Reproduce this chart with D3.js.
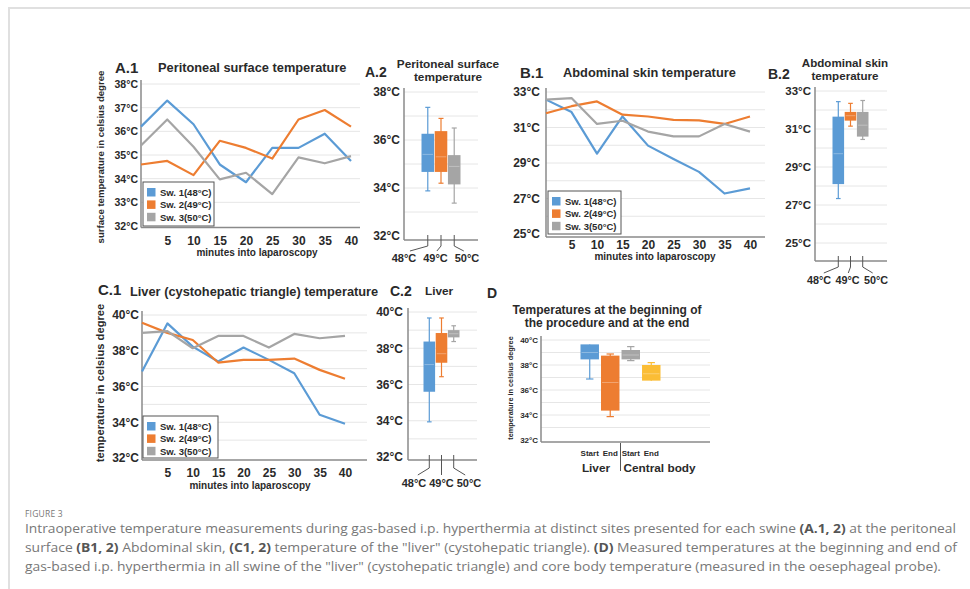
<!DOCTYPE html>
<html>
<head>
<meta charset="utf-8">
<script src="https://cdn.jsdelivr.net/npm/d3@7"></script>
<style>
  html, body { margin: 0; padding: 0; background: #fff; }
  svg { display: block; }
</style>
</head>
<body>
<svg id="fig" width="970" height="589"></svg>
<script>
// ---- data ----
const minutes = [0, 5, 10, 15, 20, 25, 30, 35, 40];
const minuteTicks = [5, 10, 15, 20, 25, 30, 35, 40];
const swineNames = ["Sw. 1(48°C)", "Sw. 2(49°C)", "Sw. 3(50°C)"];
const swineColors = ["#5b9bd5", "#ed7d31", "#a5a5a5"];

// peritoneal surface temperature (°C) per swine
const peritonealSw1 = [36.2, 37.3, 36.3, 34.6, 33.85, 35.3, 35.3, 35.9, 34.75];
const peritonealSw2 = [34.6, 34.75, 34.15, 35.6, 35.3, 34.85, 36.5, 36.9, 36.2];
const peritonealSw3 = [35.4, 36.5, 35.35, 33.97, 34.25, 33.35, 34.9, 34.65, 34.95];

// abdominal skin temperature (°C) per swine
const skinSw1 = [32.57, 31.87, 29.53, 31.62, 29.98, 29.23, 28.5, 27.28, 27.57];
const skinSw2 = [31.8, 32.2, 32.47, 31.72, 31.62, 31.43, 31.4, 31.2, 31.62];
const skinSw3 = [32.57, 32.66, 31.2, 31.38, 30.77, 30.5, 30.5, 31.2, 30.77];

// liver (cystohepatic triangle) temperature (°C) per swine
const liverSw1 = [36.84, 39.53, 38.23, 37.4, 38.18, 37.49, 36.74, 34.42, 33.92];
const liverSw2 = [39.57, 39.0, 38.6, 37.34, 37.49, 37.49, 37.56, 36.93, 36.43];
const liverSw3 = [39.0, 39.1, 38.14, 38.83, 38.83, 38.18, 38.94, 38.7, 38.83];

// box summaries: [min, q1, median, q3, max]
const boxCategories = ["48°C", "49°C", "50°C"];
const peritonealBox = [[33.88, 34.67, 35.4, 36.26, 37.36], [34.2, 34.67, 35.3, 36.37, 36.9], [33.37, 34.15, 34.9, 35.37, 36.5]];
const skinBox = [[27.34, 28.1, 29.7, 31.65, 32.44], [31.15, 31.44, 31.7, 31.9, 32.35], [30.45, 30.6, 31.2, 31.9, 32.5]];
const liverBox = [[33.94, 35.6, 37.1, 38.37, 39.67], [36.43, 37.2, 37.7, 38.84, 39.67], [38.37, 38.6, 38.8, 39.0, 39.24]];

const endpointKeys = ["liverStart", "liverEnd", "bodyStart", "bodyEnd"];
const endpointLabels = ["Start", "End", "Start", "End"];
const endpointGroups = ["Liver", "Central body"];
const endpointBox = [[36.88, 38.45, 39.0, 39.65, 39.65], [33.87, 34.35, 36.6, 38.75, 38.88], [38.35, 38.45, 38.8, 39.2, 39.47], [36.75, 36.75, 37.3, 38.0, 38.19]];
const endpointColors = ["#5b9bd5", "#ed7d31", "#a5a5a5", "#fbbd35"];

// ---- drawing ----
const FONT = "'Liberation Sans', Arial, Helvetica, sans-serif";
const INK = "#2a2a2a";
const AXIS = "#8a8a8a";
const GRID = "#e6e6e6";
const svg = d3.select("#fig");

// figure frame
svg.append("path").attr("d", "M9,589V8H970").attr("fill", "none")
  .attr("stroke", "#e0e0e0").attr("stroke-width", 2);

const root = svg.append("g").attr("font-family", FONT);

function txt(g, x, y, s, size, anchor = "start", weight = "bold") {
  return g.append("text").attr("x", x).attr("y", y).attr("font-size", size)
    .attr("font-weight", weight).attr("text-anchor", anchor).attr("fill", INK).text(s);
}

function styleAxis(sel, size) {
  sel.attr("font-family", FONT).attr("font-size", size);
  sel.select(".domain").remove();
  sel.selectAll("text").attr("font-weight", "bold").attr("fill", INK);
}

function yAxisBlock(g, cfg, y) {
  g.append("g").selectAll("line").data(d3.range(cfg.yLo + 1, cfg.yHi + 1)).join("line")
    .attr("x1", cfg.x0).attr("x2", cfg.xEnd)
    .attr("y1", d => y(d)).attr("y2", d => y(d))
    .attr("stroke", GRID).attr("stroke-width", 1);
  const ya = g.append("g").attr("transform", `translate(${cfg.x0},0)`)
    .call(d3.axisLeft(y).tickValues(cfg.yTicks).tickSize(0).tickPadding(cfg.yPad).tickFormat(d => d + "°C"));
  styleAxis(ya, cfg.yFont);
}

function axisLines(g, cfg, y) {
  g.append("line").attr("x1", cfg.x0).attr("x2", cfg.x0)
    .attr("y1", y(cfg.yHi) - 4).attr("y2", cfg.axisY)
    .attr("stroke", AXIS).attr("stroke-width", 1.5);
  g.append("line").attr("x1", cfg.x0).attr("x2", cfg.xEnd)
    .attr("y1", cfg.axisY).attr("y2", cfg.axisY)
    .attr("stroke", AXIS).attr("stroke-width", 1.5);
}

function lineChart(cfg) {
  const g = root.append("g");
  const x = d3.scaleLinear().domain([0, 40]).range([cfg.x0, cfg.x40]);
  const y = d3.scaleLinear().domain([cfg.yLo, cfg.yHi]).range([cfg.yLoPx, cfg.yHiPx]);
  yAxisBlock(g, cfg, y);

  const xa = g.append("g").attr("transform", `translate(0,${cfg.axisY})`)
    .call(d3.axisBottom(x).tickValues(minuteTicks).tickSize(0));
  styleAxis(xa, cfg.xFont);
  xa.selectAll("text").attr("dy", null).attr("y", cfg.xLabelY - cfg.axisY);

  axisLines(g, cfg, y);

  const line = d3.line().x((d, i) => x(minutes[i])).y(d => y(d));
  g.append("g").selectAll("path").data(cfg.series).join("path")
    .attr("d", line).attr("fill", "none")
    .attr("stroke", (d, i) => swineColors[i]).attr("stroke-width", 2.2)
    .attr("stroke-linejoin", "round");

  // legend
  const lg = g.append("g").attr("transform", `translate(${cfg.legend[0]},${cfg.legend[1]})`);
  lg.append("rect").attr("width", cfg.legend[2]).attr("height", cfg.legend[3])
    .attr("fill", "#fff").attr("stroke", "#555").attr("stroke-width", 1);
  const rows = lg.selectAll("g").data(swineNames).join("g")
    .attr("transform", (d, i) => `translate(4,${6 + i * 12.4})`);
  rows.append("rect").attr("width", 8.5).attr("height", 8.5).attr("fill", (d, i) => swineColors[i]);
  rows.append("text").attr("x", 13).attr("y", 8).attr("font-size", 9.5)
    .attr("font-weight", "bold").attr("fill", INK).text(d => d);

  txt(g, cfg.xTitle[0], cfg.xTitle[1], "minutes into laparoscopy", 10, "middle");
  if (cfg.yTitle) {
    txt(g, 0, 0, cfg.yTitle[3], cfg.yTitle[2], "middle")
      .attr("transform", `translate(${cfg.yTitle[0]},${cfg.yTitle[1]}) rotate(-90)`);
  }
  return g;
}

function boxChart(cfg) {
  const g = root.append("g");
  const y = d3.scaleLinear().domain([cfg.yLo, cfg.yHi]).range([cfg.yLoPx, cfg.yHiPx]);
  const xb = d3.scaleBand().domain(cfg.cats).range(cfg.band).paddingInner(cfg.pad);
  const bw = xb.bandwidth();
  yAxisBlock(g, cfg, y);

  const items = cfg.stats.map((s, i) => ({ s, c: cfg.cats[i], col: cfg.colors[i] }));
  const boxes = g.append("g").selectAll("g").data(items).join("g");
  const cx = d => xb(d.c) + bw / 2;
  boxes.append("line").attr("x1", cx).attr("x2", cx)
    .attr("y1", d => y(d.s[4])).attr("y2", d => y(d.s[0]))
    .attr("stroke", d => d.col).attr("stroke-width", 1.2);
  [[0, 1], [4, 3]].forEach(([k, q]) => {
    boxes.filter(d => d.s[k] !== d.s[q]).append("line")
      .attr("x1", d => cx(d) - bw * 0.2).attr("x2", d => cx(d) + bw * 0.2)
      .attr("y1", d => y(d.s[k])).attr("y2", d => y(d.s[k]))
      .attr("stroke", d => d.col).attr("stroke-width", 1.2);
  });
  boxes.append("rect").attr("x", d => xb(d.c)).attr("width", bw)
    .attr("y", d => y(d.s[3])).attr("height", d => y(d.s[1]) - y(d.s[3]))
    .attr("fill", d => d.col);
  boxes.append("line")
    .attr("x1", d => xb(d.c) + 1).attr("x2", d => xb(d.c) + bw - 1)
    .attr("y1", d => y(d.s[2])).attr("y2", d => y(d.s[2]))
    .attr("stroke", "#fff").attr("stroke-opacity", 0.3).attr("stroke-width", 1);

  axisLines(g, cfg, y);
  return { g, xb, bw, y };
}

function categoryLabels(ctx, cfg) {
  const { g, xb, bw } = ctx;
  const lx = d3.scalePoint().domain(cfg.cats).range(cfg.labelRange);
  cfg.cats.forEach(c => {
    const tx = xb(c) + bw / 2, ex = lx(c) + (tx - lx(c)) * 0.25;
    const p = d3.path();
    p.moveTo(tx, cfg.axisY - 5);
    p.lineTo(tx, cfg.axisY + cfg.drop[0]);
    p.lineTo(ex, cfg.axisY + cfg.drop[1]);
    g.append("path").attr("d", p.toString()).attr("fill", "none")
      .attr("stroke", "#555").attr("stroke-width", 1);
    txt(g, lx(c), cfg.labelY, c, cfg.labelFont, "middle");
  });
}

// ---- A.1 ----
const a1 = lineChart({
  x0: 141, x40: 351, xEnd: 360, axisY: 227.5,
  yLo: 32, yHi: 38, yLoPx: 226, yHiPx: 84, yTicks: d3.range(32, 39), yPad: 3, yFont: 10.5,
  xFont: 12, xLabelY: 245,
  series: [peritonealSw1, peritonealSw2, peritonealSw3],
  legend: [143, 182, 71, 44],
  xTitle: [257, 256],
  yTitle: [104, 157, 9.6, "surface temperature in celsius degree"]
});
txt(a1, 115, 73, "A.1", 15);
txt(a1, 158, 71.5, "Peritoneal surface temperature", 12.8);

// ---- A.2 ----
const a2cfg = {
  x0: 404, xEnd: 478, axisY: 240,
  yLo: 32, yHi: 38, yLoPx: 236, yHiPx: 92, yTicks: [32, 34, 36, 38], yPad: 4, yFont: 12,
  cats: boxCategories, band: [421.5, 460.5], pad: 0.05, stats: peritonealBox, colors: swineColors,
  labelRange: [404, 467], labelY: 262, labelFont: 11, drop: [6, 11]
};
const a2 = boxChart(a2cfg);
categoryLabels(a2, a2cfg);
txt(a2.g, 365, 77, "A.2", 14);
txt(a2.g, 448, 67.5, "Peritoneal surface", 11.8, "middle");
txt(a2.g, 448, 81, "temperature", 11.8, "middle");

// ---- B.1 ----
const b1 = lineChart({
  x0: 546, x40: 750, xEnd: 765, axisY: 237,
  yLo: 25, yHi: 33, yLoPx: 234, yHiPx: 92, yTicks: [25, 27, 29, 31, 33], yPad: 6, yFont: 12,
  xFont: 12, xLabelY: 249,
  series: [skinSw1, skinSw2, skinSw3],
  legend: [548, 191, 73, 43],
  xTitle: [655, 260]
});
txt(b1, 520, 77.5, "B.1", 15);
txt(b1, 563, 77, "Abdominal skin temperature", 12.8);

// ---- B.2 ----
const b2cfg = {
  x0: 815, xEnd: 887, axisY: 261,
  yLo: 24, yHi: 33, yLoPx: 262, yHiPx: 91, yTicks: [25, 27, 29, 31, 33], yPad: 4, yFont: 11.5,
  cats: boxCategories, band: [832.5, 868.5], pad: 0.05, stats: skinBox, colors: swineColors,
  labelRange: [819, 876], labelY: 284, labelFont: 10.8, drop: [6, 12]
};
const b2 = boxChart(b2cfg);
categoryLabels(b2, b2cfg);
txt(b2.g, 768, 79, "B.2", 14);
txt(b2.g, 845, 66.5, "Abdominal skin", 11.6, "middle");
txt(b2.g, 845, 80, "temperature", 11.6, "middle");

// ---- C.1 ----
const c1 = lineChart({
  x0: 142, x40: 345, xEnd: 367, axisY: 460,
  yLo: 32, yHi: 40, yLoPx: 458, yHiPx: 315, yTicks: [32, 34, 36, 38, 40], yPad: 3, yFont: 12,
  xFont: 12, xLabelY: 477,
  series: [liverSw1, liverSw2, liverSw3],
  legend: [143, 416, 75, 42],
  xTitle: [250, 489],
  yTitle: [104, 383, 11.2, "temperature in celsius degree"]
});
txt(c1, 98, 295, "C.1", 15);
txt(c1, 130, 296, "Liver (cystohepatic triangle) temperature", 12.8);

// ---- C.2 ----
const c2cfg = {
  x0: 408, xEnd: 477, axisY: 460,
  yLo: 32, yHi: 40, yLoPx: 457, yHiPx: 312, yTicks: [32, 34, 36, 38, 40], yPad: 5, yFont: 12,
  cats: boxCategories, band: [423.5, 459.5], pad: 0.05, stats: liverBox, colors: swineColors,
  labelRange: [414, 469], labelY: 487, labelFont: 11, drop: [8, 15]
};
const c2 = boxChart(c2cfg);
categoryLabels(c2, c2cfg);
txt(c2.g, 390, 296, "C.2", 14);
txt(c2.g, 425, 295, "Liver", 11.8);

// ---- D ----
const dcfg = {
  x0: 541, xEnd: 710, axisY: 442,
  yLo: 32, yHi: 40, yLoPx: 440, yHiPx: 340, yTicks: [32, 34, 36, 38, 40], yPad: 3, yFont: 8,
  cats: endpointKeys, band: [580.5, 660.5], pad: 0.1, stats: endpointBox, colors: endpointColors
};
const dd = boxChart(dcfg);
endpointKeys.forEach((k, i) => txt(dd.g, dd.xb(k) + dd.bw / 2, 456, endpointLabels[i], 8, "middle"));
const sepX = (dd.xb(endpointKeys[1]) + dd.bw + dd.xb(endpointKeys[2])) / 2;
dd.g.append("line").attr("x1", sepX).attr("x2", sepX).attr("y1", 443).attr("y2", 471)
  .attr("stroke", "#555").attr("stroke-width", 1);
txt(dd.g, (dd.xb(endpointKeys[0]) + dd.xb(endpointKeys[1]) + dd.bw) / 2 - 4, 472, endpointGroups[0], 11.8, "middle");
txt(dd.g, sepX + 3, 472, endpointGroups[1], 11.8, "start");
txt(dd.g, 0, 0, "temperature in celsius degree", 7.3, "middle")
  .attr("transform", "translate(513,388) rotate(-90)");
txt(dd.g, 487, 298, "D", 14);
txt(dd.g, 607, 314, "Temperatures at the beginning of", 12, "middle");
txt(dd.g, 607, 326.5, "the procedure and at the end", 12, "middle");

// ---- caption ----
const captionLines = [
  [["Intraoperative temperature measurements during gas-based i.p. hyperthermia at distinct sites presented for each swine ", 0], ["(A.1, 2)", 1], [" at the peritoneal", 0]],
  [["surface ", 0], ["(B1, 2)", 1], [" Abdominal skin, ", 0], ["(C1, 2)", 1], [" temperature of the \"liver\" (cystohepatic triangle). ", 0], ["(D)", 1], [" Measured temperatures at the beginning and end of", 0]],
  [["gas-based i.p. hyperthermia in all swine of the \"liver\" (cystohepatic triangle) and core body temperature (measured in the oesephageal probe).", 0]]
];
const captionWidths = [931, 932, 916];
const cap = svg.append("g").attr("font-family", "'Open Sans', 'Noto Sans', sans-serif").attr("fill", "#777");
cap.append("text").attr("x", 25).attr("y", 517).attr("font-size", 8.5).attr("letter-spacing", 0.2).text("FIGURE 3");
captionLines.forEach((parts, i) => {
  const t = cap.append("text").attr("x", 25).attr("y", 533 + i * 19).attr("font-size", 12)
    .attr("textLength", captionWidths[i]).attr("lengthAdjust", "spacingAndGlyphs");
  parts.forEach(([s, b]) => t.append("tspan").attr("font-weight", b ? 700 : 400)
    .attr("fill", b ? "#555" : "#777").text(s));
});
</script>
</body>
</html>
